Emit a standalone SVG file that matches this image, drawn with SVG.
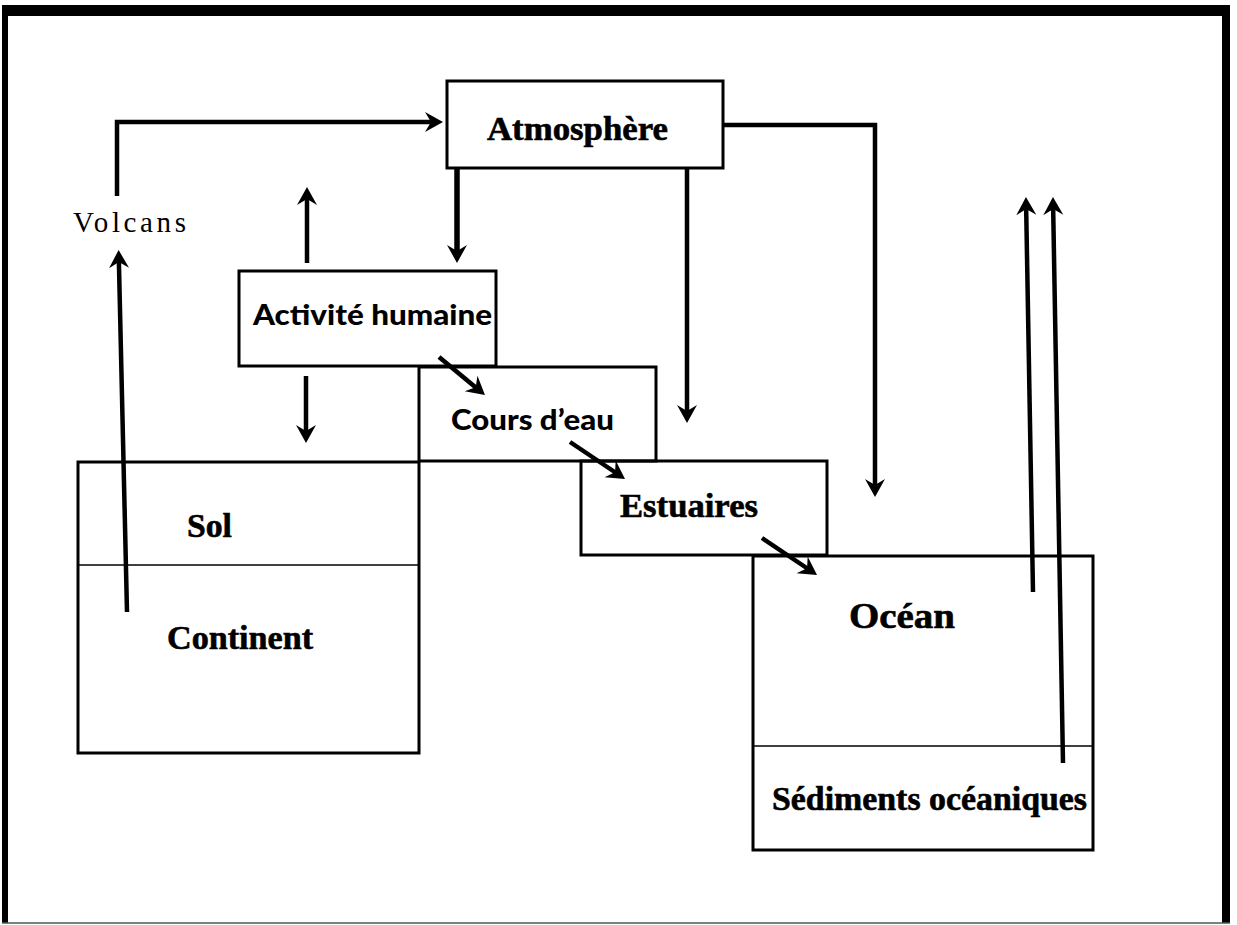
<svg xmlns="http://www.w3.org/2000/svg" width="1237" height="925" viewBox="0 0 1237 925">
<style>
.box{fill:none;stroke:#000;stroke-width:3}
.thin{stroke:#000;stroke-width:1.5}
.arr{fill:none;stroke:#000;stroke-width:4.5;marker-end:url(#ah)}
.serif{font-family:"Liberation Serif","Times New Roman",serif;font-weight:bold;font-size:34px;fill:#000;stroke:#000;stroke-width:0.6}
.sans{font-family:"Lato","Liberation Sans",sans-serif;font-weight:900;font-size:29px;fill:#000}
.reg{font-family:"Liberation Serif","Times New Roman",serif;font-size:29px;fill:#000}
</style>
<defs>
<marker id="ah" markerUnits="userSpaceOnUse" viewBox="-20 -11 22 22" refX="-8" refY="0" markerWidth="22" markerHeight="22" orient="auto">
<path d="M0,0 L-18,-10 L-12,0 L-18,10 Z" fill="#000"/>
</marker>
</defs>
<rect width="1237" height="925" fill="#fff"/>
<g id="frame">
<rect x="2" y="5" width="1228" height="11" fill="#000"/>
<rect x="2" y="5" width="6" height="918" fill="#000"/>
<rect x="1222" y="5" width="8" height="918" fill="#000"/>
<line x1="2" y1="923" x2="1230" y2="923" stroke="#555" stroke-width="1.5"/>
</g>
<g id="connectors">
<path class="arr" d="M117,196 V122 H435"/>
<path class="arr" d="M127,612 L118.8,258"/>
<path class="arr" d="M457,168 V255" style="stroke-width:5.5"/>
<path class="arr" d="M307,263 V195"/>
<path class="arr" d="M306,376 V435"/>
<path class="arr" d="M687,168 V415"/>
<path class="arr" d="M723,125 H875 V489"/>
<path class="arr" d="M439,357 L478.8,389.9"/>
<path class="arr" d="M570,442 L618.4,474.5"/>
<path class="arr" d="M762,538 L810.4,570.5"/>
<path class="arr" d="M1033,592 L1026.1,205"/>
<path class="arr" d="M1063,763 L1053.1,205"/>
</g>
<g id="atmosphere">
<rect class="box" x="447" y="81" width="276" height="87"/>
<text class="serif" x="487" y="140" textLength="181" lengthAdjust="spacingAndGlyphs">Atmosphère</text>
</g>
<g id="volcans">
<text class="reg" x="73" y="232" textLength="113" lengthAdjust="spacing">Volcans</text>
</g>
<g id="activite">
<rect class="box" x="239" y="271" width="257" height="95"/>
<text class="sans" x="253" y="325" textLength="239" lengthAdjust="spacingAndGlyphs">Activité humaine</text>
</g>
<g id="cours">
<rect class="box" x="419" y="367" width="237" height="94"/>
<text class="sans" x="451" y="430" textLength="163" lengthAdjust="spacingAndGlyphs">Cours d’eau</text>
</g>
<g id="continent">
<rect class="box" x="78" y="462" width="341" height="291"/>
<line class="thin" x1="78" y1="565" x2="419" y2="565"/>
<text class="serif" x="187" y="537" textLength="45" lengthAdjust="spacingAndGlyphs">Sol</text>
<text class="serif" x="167" y="649" textLength="146" lengthAdjust="spacingAndGlyphs">Continent</text>
</g>
<g id="estuaires">
<rect class="box" x="581" y="461" width="246" height="94"/>
<text class="serif" x="620" y="517" textLength="138" lengthAdjust="spacingAndGlyphs">Estuaires</text>
</g>
<g id="ocean">
<rect class="box" x="753" y="556" width="340" height="294"/>
<line class="thin" x1="753" y1="746" x2="1093" y2="746"/>
<text class="serif" x="849" y="628" textLength="106" lengthAdjust="spacingAndGlyphs" style="font-size:36px">Océan</text>
<text class="serif" x="772" y="810" textLength="315" lengthAdjust="spacingAndGlyphs" style="font-size:33px">Sédiments océaniques</text>
</g>
</svg>
